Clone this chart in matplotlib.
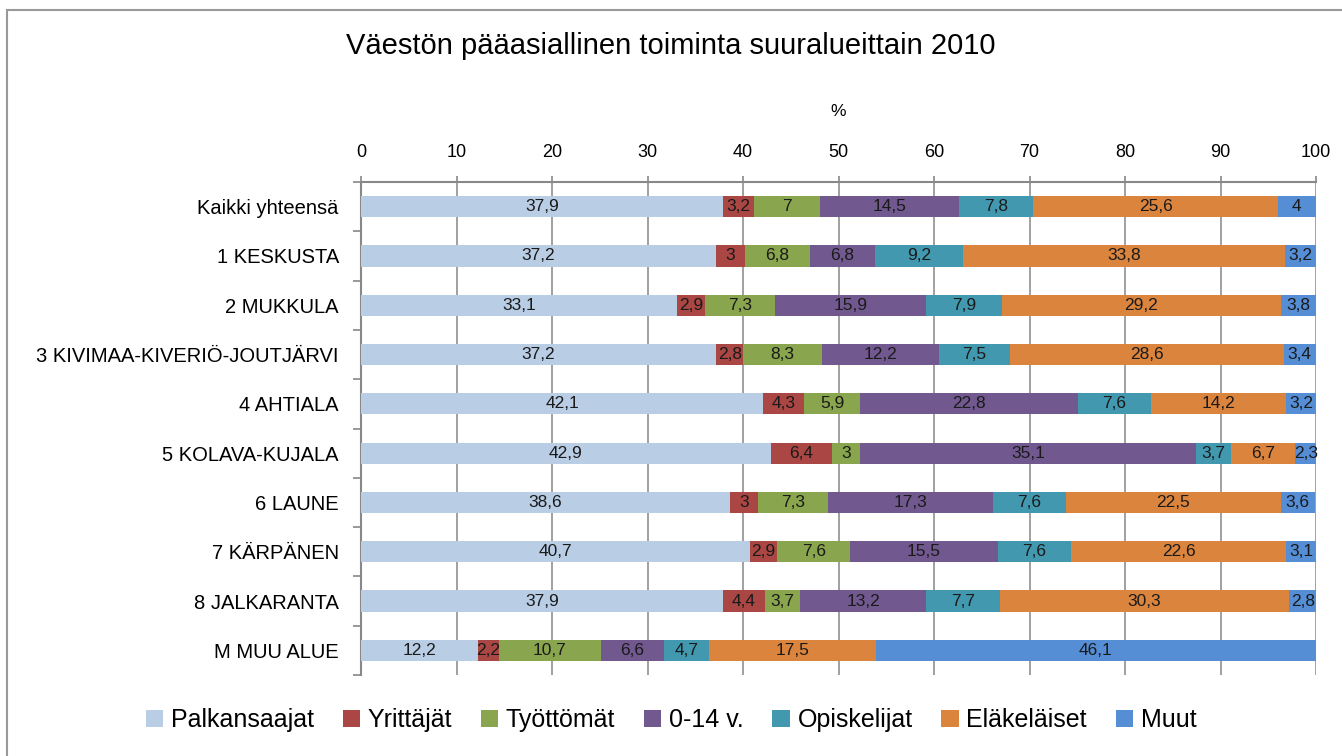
import matplotlib
matplotlib.use('Agg')
import matplotlib.pyplot as plt
from matplotlib.patches import Rectangle
import numpy as np

plt.rcParams['font.family'] = ['Liberation Sans Narrow', 'Liberation Sans', 'DejaVu Sans']

regions = [
    'Kaikki yhteensä', '1 KESKUSTA', '2 MUKKULA', '3 KIVIMAA-KIVERIÖ-JOUTJÄRVI',
    '4 AHTIALA', '5 KOLAVA-KUJALA', '6 LAUNE', '7 KÄRPÄNEN', '8 JALKARANTA',
    'M MUU ALUE',
]
groups = ['Palkansaajat', 'Yrittäjät', 'Työttömät', '0-14 v.', 'Opiskelijat',
          'Eläkeläiset', 'Muut']

palkansaajat = [37.9, 37.2, 33.1, 37.2, 42.1, 42.9, 38.6, 40.7, 37.9, 12.2]
yrittajat = [3.2, 3, 2.9, 2.8, 4.3, 6.4, 3, 2.9, 4.4, 2.2]
tyottomat = [7, 6.8, 7.3, 8.3, 5.9, 3, 7.3, 7.6, 3.7, 10.7]
lapset = [14.5, 6.8, 15.9, 12.2, 22.8, 35.1, 17.3, 15.5, 13.2, 6.6]
opiskelijat = [7.8, 9.2, 7.9, 7.5, 7.6, 3.7, 7.6, 7.6, 7.7, 4.7]
elakelaiset = [25.6, 33.8, 29.2, 28.6, 14.2, 6.7, 22.5, 22.6, 30.3, 17.5]
muut = [4, 3.2, 3.8, 3.4, 3.2, 2.3, 3.6, 3.1, 2.8, 46.1]

series = [palkansaajat, yrittajat, tyottomat, lapset, opiskelijat, elakelaiset, muut]
colors = ['#B9CDE5', '#AA4643', '#89A54E', '#71588F', '#4198AF', '#DB843D', '#558ED5']

fig = plt.figure(figsize=(13.42, 7.56), dpi=100)
ax = fig.add_axes([361 / 1342, 1 - 675 / 756, (1316 - 361) / 1342, (675 - 182) / 756])

y = np.arange(len(regions))
left = np.zeros(len(regions))
for name, vals, col in zip(groups, series, colors):
    vals = np.array(vals, dtype=float)
    ax.barh(y, vals, left=left, height=0.43, color=col, label=name, zorder=3)
    for yi, (l, v) in enumerate(zip(left, vals)):
        ax.text(l + v / 2, yi, f'{v:g}'.replace('.', ','), ha='center', va='center',
                fontsize=12.5, color='#1a1a1a', zorder=4)
    left += vals

ax.set_xlim(0, 100)
ax.set_ylim(len(regions) - 0.5, -0.5)
ax.set_xticks(np.arange(0, 101, 10))
ax.xaxis.tick_top()
ax.xaxis.set_label_position('top')
ax.set_xlabel('%', fontsize=12.5, labelpad=20)
ax.tick_params(axis='x', direction='out', length=4, width=1.2, color='#888888',
               labelsize=13, pad=11)
ax.set_yticks(y)
ax.set_yticklabels(regions, fontsize=14.5)
ax.set_yticks(np.arange(-0.5, len(regions)), minor=True)
ax.tick_params(axis='y', which='major', length=0, pad=16)
ax.tick_params(axis='y', which='minor', direction='out', length=6, width=1.2,
               color='#888888')
ax.grid(axis='x', color='#999999', linewidth=1.3, zorder=0)
for side in ['right', 'bottom']:
    ax.spines[side].set_visible(False)
for side in ['top', 'left']:
    ax.spines[side].set_color('#888888')
    ax.spines[side].set_linewidth(1.5)

fig.text(0.5, 1 - 46 / 756, 'Väestön pääasiallinen toiminta suuralueittain 2010',
         ha='center', va='center', fontsize=21)

fig.legend(loc='center', bbox_to_anchor=(0.5, 1 - 720 / 756), ncol=7, frameon=False,
           fontsize=18, handlelength=0.7, handleheight=0.7, handletextpad=0.3,
           columnspacing=1.15)

fig.patches.append(Rectangle((7 / 1342, -0.1), 1.2, 1 - 10 / 756 + 0.1,
                             transform=fig.transFigure, fill=False,
                             edgecolor='#999999', linewidth=1.5))

fig.savefig('out.png', dpi=100)
